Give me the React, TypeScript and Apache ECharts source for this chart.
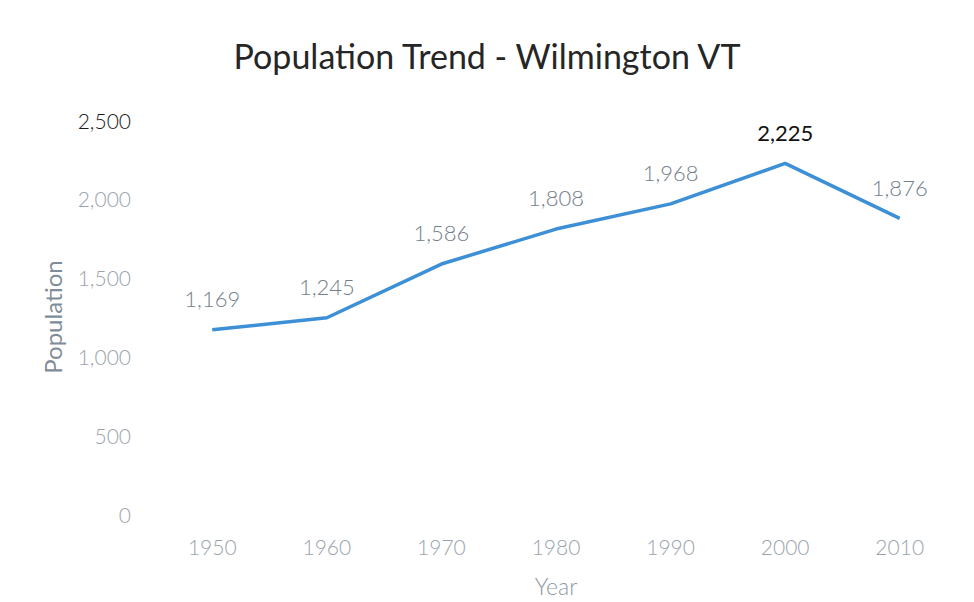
import React, { useEffect, useRef } from "react";
import * as echarts from "echarts";

const years = ["1950", "1960", "1970", "1980", "1990", "2000", "2010"];
const population = [1169, 1245, 1586, 1808, 1968, 2225, 1876];
const highlightIndex = 5;
const titleText = "Population Trend - Wilmington VT";
const yAxisName = "Population";
const xAxisName = "Year";

const fmt = (v: number) => v.toLocaleString("en-US");

export default function App() {
  const ref = useRef<HTMLDivElement>(null);
  useEffect(() => {
    if (!ref.current) return;
    const chart = echarts.init(ref.current, undefined, { renderer: "svg" });
    const font = "Lato, 'Open Sans', sans-serif";
    const seriesData = population.map((v, i) =>
      i === highlightIndex
        ? { value: v, label: { color: "#111111", fontWeight: 400 } }
        : { value: v }
    );
    chart.setOption({
      animation: false,
      backgroundColor: "#ffffff",
      title: {
        text: titleText,
        left: "center",
        top: 33,
        textStyle: { fontFamily: font, fontSize: 34, fontWeight: "normal", color: "#262626" },
      },
      grid: { left: 155, right: 17, top: 120, bottom: 86 },
      xAxis: {
        type: "category",
        data: years,
        boundaryGap: true,
        axisLine: { show: false },
        axisTick: { show: false },
        axisLabel: { fontFamily: font, fontSize: 21, fontWeight: 300, color: "#9aa3ad", margin: 22 },
        name: xAxisName,
        nameLocation: "middle",
        nameGap: 60,
        nameTextStyle: { fontFamily: font, fontSize: 23, fontWeight: 300, color: "#8e99a5" },
      },
      yAxis: {
        type: "value",
        min: 0,
        max: 2500,
        interval: 500,
        axisLine: { show: false },
        axisTick: { show: false },
        splitLine: { show: false },
        axisLabel: {
          fontFamily: font,
          fontSize: 21,
          fontWeight: 300,
          margin: 24,
          formatter: (v: number) => fmt(v),
          color: (v: any) => (Number(v) === 2500 ? "#1a1a1a" : "#9aa3ad"),
        },
        name: yAxisName,
        nameLocation: "middle",
        nameGap: 91,
        nameTextStyle: { fontFamily: font, fontSize: 24, color: "#7f8c99" },
      },
      series: [
        {
          type: "line",
          data: seriesData,
          symbol: "circle",
          symbolSize: 0.5,
          showSymbol: true,
          itemStyle: { color: "#3d8fd6" },
          lineStyle: { color: "#3d8fd6", width: 3.5 },
          label: {
            show: true,
            position: "top",
            distance: 20,
            fontFamily: font,
            fontSize: 22,
            fontWeight: 300,
            color: "#737e8a",
            formatter: (p: any) => fmt(p.value),
          },
          labelLayout: { hideOverlap: false },
          emphasis: { disabled: true },
        },
      ],
    });
    return () => chart.dispose();
  }, []);
  return <div ref={ref} style={{ width: 974, height: 602, position: "absolute", left: 0, top: 0 }} />;
}
